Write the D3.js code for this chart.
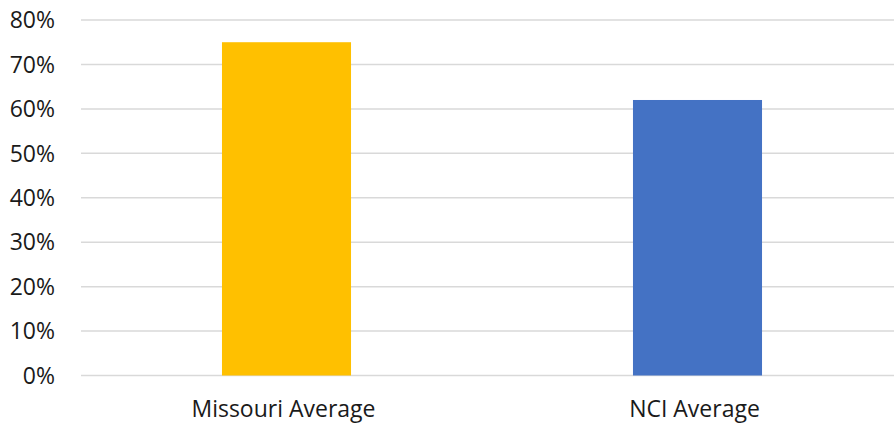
<!DOCTYPE html>
<html>
<head>
<meta charset="utf-8">
<script src="https://cdn.jsdelivr.net/npm/d3@7"></script>
<style>
  body { margin: 0; background: #fff; }
  text { font-family: "Open Sans", sans-serif; fill: #1a1a1a; }
</style>
</head>
<body>
<script>
var categories = ["Missouri Average", "NCI Average"],
    values = [0.75, 0.62],
    colors = ["#ffc000", "#4472c4"],
    yTicks = [0, 0.1, 0.2, 0.3, 0.4, 0.5, 0.6, 0.7, 0.8];

var width = 894,
    height = 425;

var svg = d3.select("body").append("svg")
    .attr("width", width)
    .attr("height", height);

var x = d3.scaleBand()
    .domain(categories)
    .range([81, 903])
    .paddingInner(0.686)
    .paddingOuter(0.343);

var y = d3.scaleLinear()
    .domain([0, 0.8])
    .range([375.5, 20]);

// gridlines
svg.append("g")
    .selectAll("line")
    .data(yTicks)
  .enter().append("line")
    .attr("x1", 81)
    .attr("x2", width)
    .attr("y1", function(d) { return y(d); })
    .attr("y2", function(d) { return y(d); })
    .attr("stroke", "#d9d9d9")
    .attr("stroke-width", 1.5);

// y tick labels
svg.append("g")
    .selectAll("text")
    .data(yTicks)
  .enter().append("text")
    .attr("x", 55)
    .attr("y", function(d) { return y(d); })
    .attr("dy", "0.36em")
    .attr("text-anchor", "end")
    .style("font-size", "23px")
    .text(d3.format(".0%"));

// bars
svg.append("g")
    .selectAll("rect")
    .data(values)
  .enter().append("rect")
    .attr("x", function(d, i) { return x(categories[i]); })
    .attr("width", x.bandwidth())
    .attr("y", function(d) { return y(d); })
    .attr("height", function(d) { return y(0) - y(d); })
    .attr("fill", function(d, i) { return colors[i]; });

// category labels
svg.append("g")
    .selectAll("text")
    .data(categories)
  .enter().append("text")
    .attr("x", function(d) { return x(d) + x.bandwidth() / 2 - 3; })
    .attr("y", 417)
    .attr("text-anchor", "middle")
    .style("font-size", "23px")
    .text(function(d) { return d; });
</script>
</body>
</html>
